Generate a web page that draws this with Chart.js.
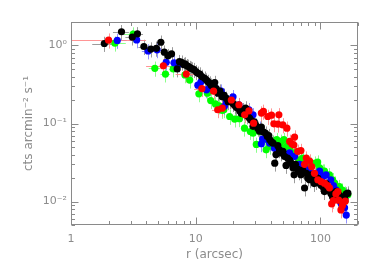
<!DOCTYPE html>
<html><head><meta charset="utf-8">
<script src="https://cdn.jsdelivr.net/npm/chart.js@4.4.0/dist/chart.umd.min.js"></script>
<style>html,body{margin:0;padding:0;background:#fff}canvas{display:block}</style>
</head><body>
<canvas id="c" width="380" height="271"></canvas>
<script>
// ---- data (r in arcsec, surface brightness in cts arcmin^-2 s^-1) ----
const redX = [2.0,5.5,8.4,11.2,13.9,15.0,16.3,19.3,22.2,24.7,26.7,29.1,33.6,34.9,37.8,40.5,42.3,45.5,46.4,49.9,53.8,56.6,58.9,61.2,62.0,65.7,69.7,74.6,77.0,81.8,85.0,89.6,95.3,101.0,107.7,114.0,118.0,123.0,127.0,133.0,138.0,140.0,146.0,150.0,158.0];
const redY = [1.17,0.55,0.43,0.28,0.26,0.15,0.157,0.20,0.174,0.129,0.145,0.101,0.136,0.143,0.123,0.128,0.099,0.098,0.129,0.096,0.087,0.059,0.055,0.053,0.067,0.044,0.045,0.030,0.036,0.033,0.028,0.023,0.019,0.018,0.0172,0.016,0.015,0.0093,0.0103,0.0125,0.0134,0.0104,0.0078,0.0089,0.0101];
const redXErr = [2.0,1.5];           // half-widths of the first two (wide) bins
const greenX = [2.25,3.15,4.7,5.72,6.6,8.2,8.95,10.6,12.4,13.2,14.4,15.4,16.3,16.8,18.7,20.5,22.4,24.6,27.4,28.8,30.6,32.5,35.6,36.7,39.2,42.0,44.6,47.0,48.6,51.0,53.4,57.0,60.0,62.0,67.9,72.0,77.0,84.0,91.0,95.0,98.5,104.0,107.7,118.0,125.0,130.0,142.0,150.0,156.0,166.0];
const greenY = [1.07,1.40,0.51,0.43,0.50,0.42,0.36,0.24,0.245,0.197,0.178,0.168,0.147,0.15,0.123,0.114,0.115,0.087,0.079,0.075,0.054,0.079,0.063,0.046,0.051,0.058,0.062,0.051,0.059,0.062,0.051,0.045,0.038,0.042,0.034,0.036,0.033,0.030,0.031,0.032,0.027,0.0245,0.0245,0.022,0.019,0.0172,0.0155,0.014,0.0128,0.0122];
const blueX = [2.35,3.36,4.15,4.9,5.8,6.7,7.4,10.4,11.0,12.2,12.9,14.4,16.0,17.0,17.6,19.9,22.2,23.5,26.7,27.9,28.8,32.5,33.6,34.4,36.7,37.8,39.2,42.8,45.5,48.6,53.0,56.6,62.0,67.9,74.6,80.0,86.6,92.0,98.5,105.0,111.0,121.0,127.0,133.0,140.0,146.0,151.0,156.0,161.0];
const blueY = [1.16,1.18,0.85,0.88,0.61,0.60,0.58,0.31,0.34,0.27,0.285,0.285,0.26,0.166,0.19,0.22,0.174,0.14,0.15,0.126,0.129,0.087,0.055,0.063,0.068,0.062,0.056,0.048,0.048,0.044,0.040,0.042,0.038,0.030,0.028,0.025,0.023,0.022,0.0245,0.021,0.022,0.019,0.016,0.0141,0.012,0.0095,0.0105,0.0083,0.0067];
const blackX = [1.85,2.54,3.1,3.41,3.84,4.37,4.84,5.25,5.6,6.0,6.4,7.1,7.4,7.7,8.0,8.2,8.5,8.7,9.0,9.1,9.4,9.7,10.1,10.4,10.8,11.2,11.8,12.2,12.5,12.9,13.3,13.7,14.2,14.6,15.1,15.6,16.3,16.9,17.6,18.2,19.0,19.9,20.6,21.2,21.8,22.6,23.2,23.9,24.5,25.1,26.0,27.0,27.8,28.8,29.5,30.3,31.4,32.4,33.6,34.8,36.3,37.5,38.5,39.2,40.5,41.7,43.0,44.0,45.5,46.9,48.5,50.0,51.5,53.0,54.5,56.6,58.3,60.2,61.5,63.0,65.7,67.5,69.7,72.0,74.6,77.0,79.0,81.8,84.0,86.6,89.0,92.2,95.0,98.5,101.5,105.0,107.7,111.0,114.0,117.5,121.0,125.0,130.0,134.0,138.0,142.0,146.0,151.0,156.0,161.0,166.0];
const blackY = [1.06,1.50,1.28,1.41,0.97,0.90,0.92,1.10,0.82,0.74,0.78,0.50,0.62,0.61,0.57,0.58,0.55,0.54,0.52,0.51,0.50,0.49,0.46,0.44,0.43,0.40,0.38,0.36,0.345,0.33,0.31,0.30,0.335,0.28,0.245,0.26,0.22,0.23,0.21,0.19,0.195,0.18,0.17,0.16,0.158,0.145,0.135,0.15,0.14,0.158,0.125,0.117,0.11,0.092,0.105,0.095,0.087,0.08,0.09,0.078,0.075,0.068,0.07,0.062,0.058,0.056,0.031,0.040,0.052,0.046,0.042,0.044,0.038,0.029,0.036,0.034,0.031,0.027,0.022,0.030,0.026,0.024,0.022,0.025,0.0149,0.023,0.020,0.019,0.022,0.021,0.017,0.018,0.020,0.017,0.016,0.0155,0.0134,0.017,0.0148,0.014,0.0128,0.0115,0.0122,0.0135,0.0105,0.012,0.0115,0.0095,0.011,0.0125,0.0128];
const xTickValues = [1, 10, 100];
const xTickLabels = ['1', '10', '100'];
const yTickValues = [1, 0.1, 0.01];
const yTickLabels = ['10\u2070', '10\u207B\u00B9', '10\u207B\u00B2'];

function pts(xs, ys){ return xs.map((x,i)=>({x:x, y:ys[i]})); }

// listed bottom-to-top (green drawn first, red last / on top)
const series = [
  {label:'green', x:greenX, y:greenY, color:'#00ff00', err:'rgba(110,255,110,0.8)', xh:0.5, ye:0.22},
  {label:'blue',  x:blueX,  y:blueY,  color:'#0000ff', err:'rgba(120,120,255,0.8)', xh:0.45, ye:0.22},
  {label:'black', x:blackX, y:blackY, color:'#000000', err:'rgba(130,130,130,0.8)', xh:0.37, ye:0.22},
  {label:'red',   x:redX,   y:redY,   color:'#ff0000', err:'rgba(255,130,130,0.85)', xh:1.5, ye:0.22, xErr:redXErr}
];

const errorBars = {
  id:'errorBars',
  beforeDatasetsDraw(chart){
    const {ctx, chartArea:a, scales:{x:sx, y:sy}} = chart;
    ctx.save();
    ctx.beginPath(); ctx.rect(a.left, a.top, a.right-a.left, a.bottom-a.top); ctx.clip();
    ctx.lineWidth = 1;
    series.forEach(s=>{
      ctx.strokeStyle = s.err;
      s.x.forEach((xv,i)=>{
        const yv = s.y[i];
        const h = (s.xErr && s.xErr[i]!==undefined) ? s.xErr[i] : s.xh;
        const lo = Math.max(xv-h, sx.min);
        const px = sx.getPixelForValue(xv), py = sy.getPixelForValue(yv);
        ctx.beginPath();
        ctx.moveTo(sx.getPixelForValue(lo), Math.round(py)+0.5);
        ctx.lineTo(sx.getPixelForValue(xv+h), Math.round(py)+0.5);
        ctx.moveTo(Math.round(px)+0.5, sy.getPixelForValue(yv*(1-s.ye)));
        ctx.lineTo(Math.round(px)+0.5, sy.getPixelForValue(yv*(1+s.ye)));
        ctx.stroke();
      });
    });
    ctx.restore();
  }
};

const frame = {
  id:'frame',
  afterDraw(chart){
    const {ctx, chartArea:a, scales:{x:sx, y:sy}} = chart;
    ctx.save();
    ctx.strokeStyle = '#8a8a8a';
    ctx.lineWidth = 1;
    const L = Math.round(a.left)+0.5, R = Math.round(a.right)-0.5, T = Math.round(a.top)+0.5, B = Math.round(a.bottom)-0.5;
    ctx.strokeRect(L, T, R-L, B-T);
    ctx.beginPath();
    for (let d=1; d<=1000; d*=10){
      for (let k=1; k<=9; k++){
        const v = k*d; if (v < sx.min || v > sx.max) continue;
        const p = Math.round(sx.getPixelForValue(v))+0.5, len = k===1 ? 7 : 3.5;
        ctx.moveTo(p, B); ctx.lineTo(p, B-len);
        ctx.moveTo(p, T); ctx.lineTo(p, T+len);
      }
    }
    for (let d=0.001; d<=10; d*=10){
      for (let k=1; k<=9; k++){
        const v = k*d; if (v < sy.min*0.999 || v > sy.max*1.001) continue;
        const p = Math.round(sy.getPixelForValue(v))+0.5, len = k===1 ? 7 : 3.5;
        ctx.moveTo(L, p); ctx.lineTo(L+len, p);
        ctx.moveTo(R, p); ctx.lineTo(R-len, p);
      }
    }
    ctx.stroke();
    ctx.restore();
  }
};

const grey = '#8c8c8c';
const fontFam = '"DejaVu Sans", sans-serif';

new Chart(document.getElementById('c'), {
  type:'scatter',
  data:{ datasets: series.map((s, i)=>({
    label:s.label, data:pts(s.x, s.y),
    order: series.length - i,          // higher order is drawn first (underneath)
    backgroundColor:s.color, borderWidth:0, pointRadius:3.6, pointHoverRadius:3.6
  }))},
  options:{
    responsive:false, devicePixelRatio:1, animation:false,
    layout:{padding:{top:22, right:22, left:0, bottom:0}},
    plugins:{legend:{display:false}, tooltip:{enabled:false}},
    scales:{
      x:{
        type:'logarithmic', min:1, max:200,
        grid:{display:false, drawTicks:false}, border:{display:false},
        afterBuildTicks(s){ s.ticks = xTickValues.map(v=>({value:v})); },
        afterFit(s){ s.height = 46; },
        ticks:{ padding:8, color:grey, font:{family:fontFam, size:11},
          autoSkip:false, maxRotation:0,
          callback(v){ const i = xTickValues.indexOf(v); return i>=0 ? xTickLabels[i] : ''; } },
        title:{display:true, text:'r (arcsec)', color:grey, font:{family:fontFam, size:12}, padding:{top:0, bottom:9}}
      },
      y:{
        type:'logarithmic', min:0.005, max:2,
        grid:{display:false, drawTicks:false}, border:{display:false},
        afterBuildTicks(s){ s.ticks = yTickValues.map(v=>({value:v})); },
        afterFit(s){ s.width = 71; },
        ticks:{ padding:4, color:grey, font:{family:fontFam, size:11}, autoSkip:false,
          callback(v){ const i = yTickValues.findIndex(t=>Math.abs(t-v)/t<1e-6); return i>=0 ? yTickLabels[i] : ''; } },
        title:{display:true, text:'cts arcmin\u207B\u00B2 s\u207B\u00B9', color:grey, font:{family:fontFam, size:12}, padding:{top:22, bottom:0}}
      }
    }
  },
  plugins:[errorBars, frame]
});
</script>
</body></html>
